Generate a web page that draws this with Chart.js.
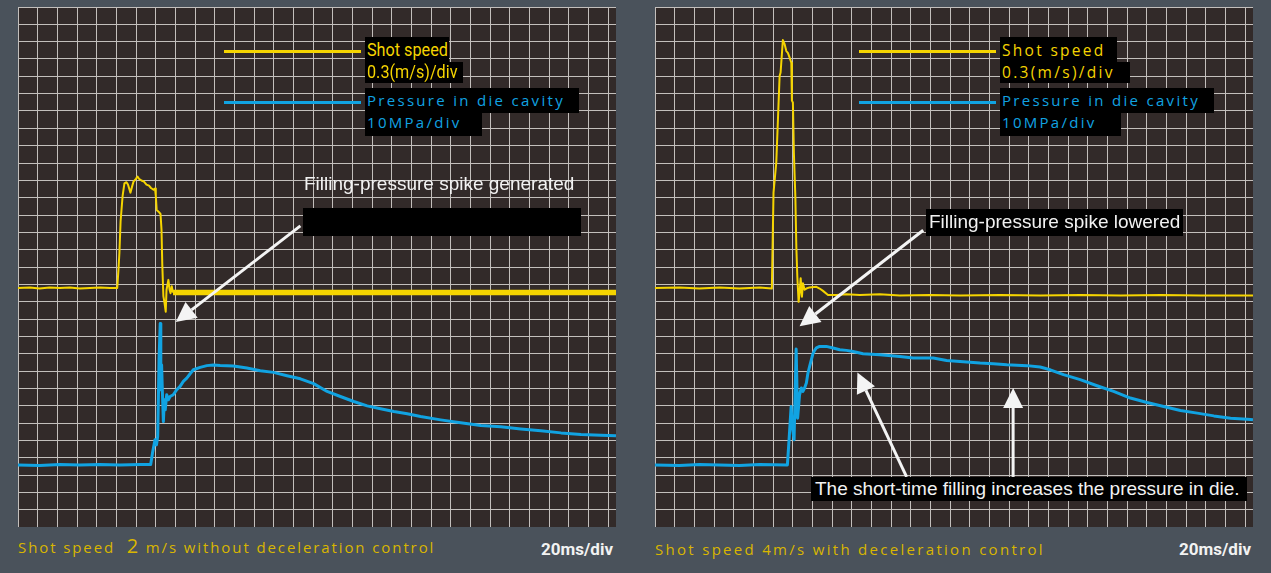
<!DOCTYPE html>
<html>
<head>
<meta charset="utf-8">
<title>Shot speed and pressure in die cavity</title>
<script src="https://cdn.jsdelivr.net/npm/chart.js@4.4.1/dist/chart.umd.min.js"></script>
<style>
  html, body { margin: 0; padding: 0; }
  body { width: 1271px; height: 573px; background: #4a525b; position: relative; overflow: hidden; }
  .scope { position: absolute; top: 7px; width: 598px; height: 520px; background: #322a29; }
  .scope canvas { display: block; }
  .swatch { position: absolute; height: 3px; width: 137px; }
  .box { position: absolute; background: #000; white-space: nowrap; box-sizing: border-box; padding-left: 2px; }
  .spd { color: #f5d400; }
  .prs { color: #11a3e2; }
  .cond { font: 18px Roboto, sans-serif; }
  .cond span { display: inline-block; transform: scaleX(0.9); transform-origin: left center; }
  .spaced { font: 15px "Open Sans", sans-serif; letter-spacing: 2.3px; }
  .note { position: absolute; color: #f2f2f2; font: 19px "Liberation Sans", Arial, sans-serif; white-space: nowrap; }
  .caption { position: absolute; color: #d9b600; font: 15px "Open Sans", sans-serif; line-height: 20px; white-space: nowrap; }
  .caption b { font-size: 20px; font-weight: 400; line-height: 20px; }
  .scale { position: absolute; color: #f2f2f2; font: 700 17px Roboto, sans-serif; line-height: 20px; text-align: right; width: 120px; }
</style>
</head>
<body>

<div class="scope" style="left:18px"><canvas id="left"></canvas></div>
<div class="scope" style="left:655px"><canvas id="right"></canvas></div>

<!-- legend, left scope -->
<div class="swatch" style="left:224px;top:50px;background:#f5d400"></div>
<div class="box cond spd" style="left:365px;top:37px;width:84px;height:25px;line-height:25px"><span>Shot speed</span></div>
<div class="box cond spd" style="left:365px;top:62px;width:98px;height:21px;line-height:19px"><span>0.3(m/s)/div</span></div>
<div class="swatch" style="left:224px;top:101px;background:#11a3e2"></div>
<div class="box spaced prs" style="left:365px;top:88px;width:214px;height:25px;line-height:25px">Pressure in die cavity</div>
<div class="box spaced prs" style="left:365px;top:113px;width:117px;height:23px;line-height:18px">10MPa/div</div>

<!-- legend, right scope -->
<div class="swatch" style="left:859px;top:50px;background:#f5d400"></div>
<div class="box spaced spd" style="left:1000px;top:37px;width:117px;height:25px;line-height:26px;font-size:15.5px">Shot speed</div>
<div class="box spaced spd" style="left:1000px;top:62px;width:130px;height:21px;line-height:20px;font-size:15.5px">0.3(m/s)/div</div>
<div class="swatch" style="left:859px;top:101px;background:#11a3e2"></div>
<div class="box spaced prs" style="left:1000px;top:88px;width:214px;height:25px;line-height:25px">Pressure in die cavity</div>
<div class="box spaced prs" style="left:1000px;top:113px;width:121px;height:23px;line-height:18px">10MPa/div</div>

<!-- notes -->
<div class="note" style="left:304px;top:174px;line-height:19px">Filling-pressure spike generated</div>
<div class="box" style="left:303px;top:208px;width:278px;height:28px"></div>
<div class="box note" style="left:926px;top:209px;width:257px;height:27px;line-height:25px;padding-left:3px">Filling-pressure spike lowered</div>
<div class="box note" style="left:811px;top:477px;width:436px;height:24px;line-height:24px;padding-left:4px">The short-time filling increases the pressure in die.</div>

<!-- captions -->
<div class="caption" style="left:18px;top:536px;letter-spacing:1.9px">Shot speed&nbsp; <b>2</b> m/s without deceleration control</div>
<div class="scale" style="left:493px;top:539px">20ms/div</div>
<div class="caption" style="left:655px;top:539px;letter-spacing:2.3px">Shot speed 4m/s with deceleration control</div>
<div class="scale" style="left:1131px;top:539px">20ms/div</div>

<script>
// time in ms, shot speed in m/s, cavity pressure in MPa
const leftSpeed = [
  [0, 0], [12, 0.01], [22, -0.01], [32, 0.01], [42.5, 0], [52.7, 0.01], [62.9, -0.01], [73.1, 0],
  [83.3, 0.01], [93.4, 0], [100.9, 0], [102.1, 0.31], [103.1, 0.61], [104.3, 1.15], [106.4, 1.60],
  [108.2, 1.81], [110.3, 1.83], [111.8, 1.79], [114.3, 1.65], [115.9, 1.75], [117.4, 1.84],
  [119.9, 1.89], [121.5, 1.93], [123.0, 1.89], [125.5, 1.86], [128.1, 1.84], [130.6, 1.79],
  [133.2, 1.77], [135.2, 1.73], [137.8, 1.70], [139.3, 1.72], [140.1, 1.60], [141.0, 1.35],
  [142.9, 1.32], [144.9, 1.28], [145.9, 1.01], [146.7, 0.40], [147.8, -0.14], [148.8, -0.24],
  [150.2, -0.41], [151.0, -0.03], [152.9, 0.14], [154.1, -0.03], [155.1, -0.09], [156.3, 0.03],
  [157.6, -0.08], [608, -0.08]
];
const leftPressure = [
  [0, 0], [22, -0.3], [42.5, 0.3], [62.9, 0], [83.3, 0.3], [103.6, 0], [124, 0.3], [134.9, 0.3],
  [137.0, 7.7], [139.3, 14.5], [140.8, 11.6], [142.0, 16.4], [142.7, 37.6], [143.4, 60.7],
  [144.6, 81.6], [145.2, 43.4], [146.0, 57.8], [146.9, 40.5], [147.8, 25.0], [148.8, 37.6],
  [149.7, 31.8], [151.2, 40.5], [152.9, 37.6], [154.6, 39.5], [157.9, 40.5], [161.4, 43.4],
  [164.8, 45.3], [168.1, 48.2], [171.6, 50.1], [175.0, 52.6], [178.3, 54.9], [185.2, 56.3],
  [192.0, 57.3], [198.7, 57.7], [205.5, 57.4], [219.1, 57.1], [232.7, 55.9], [246.3, 54.4],
  [259.8, 53.4], [273.5, 51.5], [287.1, 49.7], [300.6, 46.9], [314.3, 42.4], [327.8, 39.5],
  [341.4, 36.6], [355.0, 34.1], [368.6, 32.4], [382.1, 30.8], [395.8, 29.5], [409.3, 27.9],
  [429.7, 26.0], [450.1, 24.3], [470.5, 22.8], [490.9, 22.0], [511.2, 20.8], [531.6, 19.7],
  [552.0, 18.5], [572.4, 17.6], [592.7, 17.1], [608, 16.8]
];
const rightSpeed = [
  [0, 0], [24.8, 0.01], [45.1, -0.01], [65.5, 0.01], [85.9, -0.01], [106.3, 0.01], [118.8, -0.01],
  [120.5, 1.65], [123.3, 2.17], [126.7, 3.67], [127.7, 3.73], [130.0, 4.29], [131.8, 4.22],
  [133.5, 4.10], [135.1, 4.07], [136.8, 3.99], [138.6, 3.90], [139.2, 3.24], [140.2, 3.21],
  [141.2, 2.34], [142.7, 1.58], [143.7, 0.71], [144.7, 0.20], [146.0, -0.24], [147.0, -0.09],
  [148.1, 0.17], [149.4, -0.15], [150.4, 0.08], [152.1, -0.03], [153.9, -0.01], [157.2, 0.01],
  [164.1, 0.02], [167.4, -0.01], [170.8, -0.05], [175.9, -0.12], [184.4, -0.12], [194.6, -0.11],
  [208.2, -0.12], [228.5, -0.11], [248.9, -0.13], [279.5, -0.12], [310.1, -0.13], [350.8, -0.12],
  [391.6, -0.13], [432.4, -0.12], [473.1, -0.13], [513.9, -0.12], [554.7, -0.13], [608, -0.13]
];
const rightPressure = [
  [0, 0], [24.8, -0.3], [45.1, 0.3], [65.5, 0], [85.9, -0.3], [106.3, 0.3], [134.6, 0],
  [136.3, 14.5], [138.4, 33.7], [139.4, 23.1], [141.4, 14.5], [143.5, 66.9], [145.0, 27.0],
  [147.0, 40.5], [148.8, 44.4], [150.4, 42.4], [152.1, 44.4], [153.9, 47.3], [155.5, 53.0],
  [157.2, 56.9], [159.0, 60.7], [160.6, 64.2], [162.3, 66.1], [164.1, 67.5], [167.4, 68.4],
  [174.2, 68.4], [181.0, 67.5], [187.8, 66.5], [194.6, 66.1], [201.4, 65.4], [211.5, 64.2],
  [228.6, 63.6], [249.0, 62.6], [262.5, 61.7], [282.9, 61.7], [296.5, 60.3], [316.9, 59.4],
  [330.5, 58.8], [344.0, 58.4], [357.7, 57.8], [378.1, 57.3], [391.6, 56.5], [401.8, 54.9],
  [415.3, 52.1], [432.3, 49.2], [449.4, 45.7], [466.3, 42.4], [483.3, 38.6], [500.3, 36.0],
  [517.2, 33.7], [534.2, 31.4], [551.3, 29.9], [568.2, 28.3], [585.2, 27.0], [602.2, 26.4],
  [608, 26.0]
];

// screen: 30 vertical divisions, time base runs a little past 30 divisions
const timeTicks = [...Array(31).keys()].map(i => i * 20).concat(608);
const divTicks = [...Array(31).keys()];
const SPEED_PER_DIV = 0.3, SPEED_ZERO_DIV = 13.79;
const PRESS_PER_DIV = 10, PRESS_ZERO_DIV = 3.58;

const YELLOW = '#f5d400';
const BLUE = '#11a3e2';
const GRID = '#c3bfbc';

// arrows in (ms, division) coordinates
function arrowPlugin(list) {
  return {
    id: 'arrows',
    afterDatasetsDraw(chart) {
      const {ctx, scales: {x, y}} = chart;
      ctx.save();
      ctx.strokeStyle = ctx.fillStyle = '#f4f4f4';
      ctx.lineWidth = 3;
      for (const a of list) {
        const x0 = x.getPixelForValue(a.from[0]), y0 = y.getPixelForValue(a.from[1]);
        const x1 = x.getPixelForValue(a.to[0]), y1 = y.getPixelForValue(a.to[1]);
        const ang = Math.atan2(y1 - y0, x1 - x0);
        const len = 20, half = 10;
        const bx = x1 - len * Math.cos(ang), by = y1 - len * Math.sin(ang);
        ctx.beginPath();
        ctx.moveTo(x0, y0);
        ctx.lineTo(bx, by);
        ctx.stroke();
        ctx.beginPath();
        ctx.moveTo(x1, y1);
        ctx.lineTo(bx + half * Math.sin(ang), by - half * Math.cos(ang));
        ctx.lineTo(bx - half * Math.sin(ang), by + half * Math.cos(ang));
        ctx.closePath();
        ctx.fill();
      }
      ctx.restore();
    }
  };
}

function gridAxis(min, max, ticks) {
  return {
    type: 'linear', min: min, max: max,
    afterBuildTicks: s => { s.ticks = ticks.map(v => ({value: v})); },
    ticks: {display: false},
    grid: {color: GRID, lineWidth: 1, drawTicks: false},
    border: {display: false}
  };
}

function scopeChart(id, speed, pressure, arrows, thickFrom) {
  return new Chart(document.getElementById(id), {
    type: 'line',
    data: {
      datasets: [{
        data: speed.map(([x, y]) => ({x, y})),
        yAxisID: 'speed',
        borderColor: YELLOW,
        borderWidth: 2,
        segment: {
          borderWidth: ctx => (thickFrom != null && ctx.p0.parsed.x >= thickFrom) ? 5.5 : undefined
        }
      }, {
        data: pressure.map(([x, y]) => ({x, y})),
        yAxisID: 'pressure',
        borderColor: BLUE,
        borderWidth: 3
      }]
    },
    options: {
      animation: false,
      responsive: true,
      maintainAspectRatio: false,
      layout: {padding: 0},
      elements: {
        point: {radius: 0},
        line: {tension: 0, borderJoinStyle: 'round'}
      },
      plugins: {legend: {display: false}, tooltip: {enabled: false}},
      scales: {
        x: gridAxis(0, 608, timeTicks),
        y: gridAxis(0, 30, divTicks),
        speed: {
          axis: 'y', position: 'left', display: false,
          min: -SPEED_ZERO_DIV * SPEED_PER_DIV, max: (30 - SPEED_ZERO_DIV) * SPEED_PER_DIV
        },
        pressure: {
          axis: 'y', position: 'left', display: false,
          min: -PRESS_ZERO_DIV * PRESS_PER_DIV, max: (30 - PRESS_ZERO_DIV) * PRESS_PER_DIV
        }
      }
    },
    plugins: [arrowPlugin(arrows)]
  });
}

scopeChart('left', leftSpeed, leftPressure, [
  {from: [287.1, 17.37], to: [160.4, 11.82]}
], 157);

scopeChart('right', rightSpeed, rightPressure, [
  {from: [272.7, 17.12], to: [147.0, 11.58]},
  {from: [255.8, 2.89], to: [205.8, 8.92]},
  {from: [364.1, 2.89], to: [364.1, 8.02]}
], null);
</script>
</body>
</html>
